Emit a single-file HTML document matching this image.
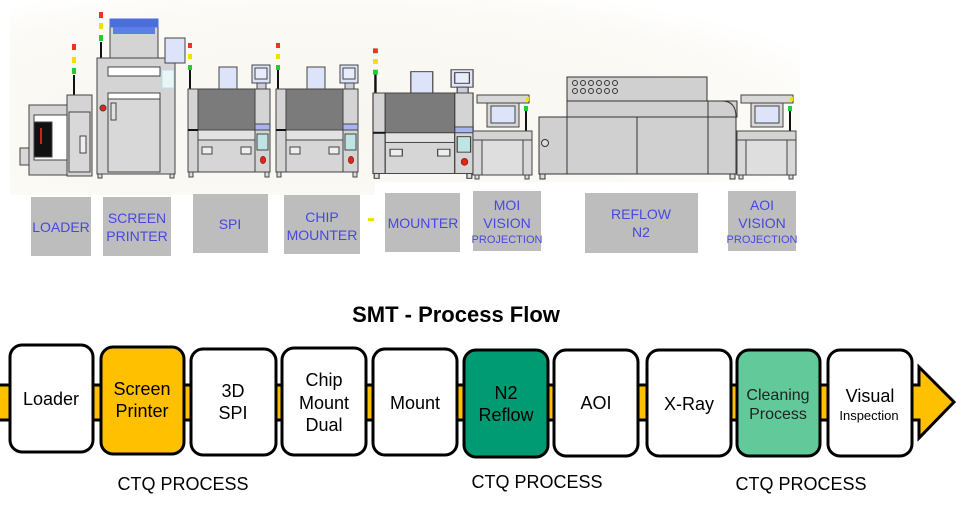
<!DOCTYPE html>
<html><head><meta charset="utf-8"><style>
html,body{margin:0;padding:0;background:#fff;}
svg{display:block;}
text{font-family:"Liberation Sans","Noto Sans CJK KR",sans-serif;}
</style></head><body>
<svg width="956" height="506" viewBox="0 0 956 506" xmlns="http://www.w3.org/2000/svg">
<defs>
<radialGradient id="bg" cx="0.4" cy="0.6" r="0.7">
<stop offset="0" stop-color="#f8f6ef"/><stop offset="0.8" stop-color="#fbfaf6"/><stop offset="1" stop-color="#ffffff"/>
</radialGradient>
<g id="mach" stroke="#444" stroke-width="1">
<line x1="2" y1="-20" x2="2" y2="0" stroke="#111" stroke-width="2"/>
<rect x="0" y="-24" width="4" height="5" fill="#22cc33" stroke="none"/>
<rect x="0" y="-35" width="4" height="5" fill="#f0e000" stroke="none"/>
<rect x="0" y="-46" width="4" height="5" fill="#ee3322" stroke="none"/>
<rect x="31" y="-22" width="18" height="22" fill="#dde3f8"/>
<rect x="64" y="-24" width="18" height="18" fill="#dde3f8"/>
<rect x="67" y="-21" width="12" height="11" fill="#e8ecfb"/>
<rect x="69" y="-6" width="9" height="6" fill="#ccd"/>
<rect x="0" y="0" width="10" height="83" fill="#d4d4d4"/>
<rect x="10" y="0" width="57" height="41" fill="#7b7b7b"/>
<rect x="10" y="41" width="57" height="10" fill="#e2e2e2"/>
<rect x="10" y="51" width="57" height="32" fill="#d6d6d6"/>
<rect x="14" y="58" width="10" height="7" fill="#eee"/>
<rect x="53" y="58" width="10" height="7" fill="#eee"/>
<rect x="67" y="0" width="15" height="83" fill="#d4d4d4"/>
<rect x="67" y="35" width="15" height="6" fill="#a8b4f0"/>
<rect x="69" y="45" width="11" height="16" fill="#bfe4e4"/>
<ellipse cx="75" cy="71" rx="2.5" ry="3.5" fill="#ee2211" stroke="#922"/>
<line x1="0" y1="41" x2="10" y2="41" stroke="#111" stroke-width="2"/>
<rect x="1" y="83" width="4" height="5" fill="#ddd"/>
<rect x="77" y="83" width="4" height="5" fill="#ddd"/>
</g>
<g id="insp" stroke="#444" stroke-width="1">
<rect x="4" y="0" width="52" height="8" fill="#d8d8d8"/>
<rect x="14" y="8" width="32" height="24" fill="#d8d8d8"/>
<rect x="18" y="11" width="24" height="17" fill="#dde3f8"/>
<line x1="53" y1="16" x2="53" y2="36" stroke="#111" stroke-width="2"/>
<rect x="51" y="11" width="4" height="5" fill="#22cc33" stroke="none"/>
<rect x="53" y="2" width="3" height="4" fill="#f0e000" stroke="none"/>
<rect x="0" y="36" width="59" height="9" fill="#d4d4d4"/>
<rect x="0" y="45" width="59" height="35" fill="#d8d8d8"/>
<rect x="9" y="45" width="41" height="35" fill="#dedede"/>
<rect x="2" y="80" width="4" height="4" fill="#ddd"/>
<rect x="52" y="80" width="4" height="4" fill="#ddd"/>
</g>
</defs>
<rect x="10" y="0" width="790" height="195" fill="url(#bg)"/>
<rect x="375" y="182" width="430" height="14" fill="#fff"/>

<!-- loader -->
<g stroke="#444" stroke-width="1">
<line x1="74" y1="75" x2="74" y2="95" stroke="#111" stroke-width="2"/>
<rect x="72" y="44" width="4" height="6" fill="#ee3322" stroke="none"/>
<rect x="72" y="57" width="4" height="6" fill="#f0e000" stroke="none"/>
<rect x="72" y="68" width="4" height="6" fill="#22cc33" stroke="none"/>
<rect x="20" y="148" width="13" height="17" fill="#d8d8d8"/>
<rect x="29" y="105" width="38" height="70" fill="#d4d4d4"/>
<rect x="34" y="115" width="33" height="45" fill="#fff"/>
<rect x="34" y="122" width="18" height="35" fill="#111"/>
<line x1="41" y1="144" x2="41" y2="128" stroke="#c22" stroke-width="2"/>
<rect x="67" y="95" width="25" height="81" fill="#d4d4d4"/>
<rect x="69" y="112" width="21" height="60" fill="#d8d8d8"/>
<rect x="80" y="136" width="6" height="17" fill="#eee"/>
</g>
<!-- screen printer -->
<g stroke="#444" stroke-width="1">
<line x1="101" y1="42" x2="101" y2="58" stroke="#111" stroke-width="2"/>
<rect x="99" y="12" width="4" height="6" fill="#ee3322" stroke="none"/>
<rect x="99" y="23" width="4" height="6" fill="#f0e000" stroke="none"/>
<rect x="99" y="35" width="4" height="6" fill="#22cc33" stroke="none"/>
<rect x="110" y="27" width="48" height="31" fill="#d4d4d4"/>
<rect x="110" y="19" width="48" height="8" fill="#4a6fdc" stroke="#4a6fdc"/>
<rect x="113" y="27" width="42" height="7" fill="#5b7fe6" stroke="none"/>
<rect x="97" y="58" width="78" height="116" fill="#d4d4d4"/>
<rect x="108" y="67" width="52" height="9" fill="#fff"/>
<rect x="108" y="93" width="52" height="6" fill="#fff"/>
<rect x="108" y="99" width="52" height="73" fill="#d8d8d8"/>
<circle cx="103" cy="108" r="3" fill="#ee2211"/>
<rect x="111" y="103" width="5" height="17" fill="#e0e0e0"/>
<rect x="162" y="70" width="12" height="18" fill="#e8f6f6" stroke="#bde"/>
<rect x="165" y="38" width="20" height="25" fill="#dde3f8"/>
<rect x="98" y="174" width="4" height="4" fill="#ddd"/>
<rect x="170" y="174" width="4" height="4" fill="#ddd"/>
</g>
<use href="#mach" x="188" y="89"/>
<use href="#mach" x="276" y="89"/>
<use href="#mach" transform="translate(373,93) scale(1.22,0.97)"/>
<use href="#insp" x="473" y="95"/>
<use href="#insp" x="737" y="95"/>
<!-- reflow -->
<g stroke="#333" stroke-width="1">
<rect x="567" y="77" width="140" height="24" fill="#d0d0d0"/>
<rect x="567" y="101" width="170" height="16" fill="#d0d0d0"/>
<path d="M707 101 H722 Q736 101 736 117" fill="#d0d0d0"/>
<rect x="539" y="117" width="197" height="57" fill="#d0d0d0"/>
<line x1="567" y1="101" x2="567" y2="174"/>
<line x1="637" y1="117" x2="637" y2="174"/>
<line x1="708" y1="101" x2="708" y2="174"/>
<circle cx="545" cy="143" r="3.5" fill="#ddd"/>
<g fill="none">
<circle cx="575" cy="83" r="2.5"/><circle cx="583" cy="83" r="2.5"/><circle cx="591" cy="83" r="2.5"/><circle cx="599" cy="83" r="2.5"/><circle cx="607" cy="83" r="2.5"/><circle cx="615" cy="83" r="2.5"/>
<circle cx="575" cy="91" r="2.5"/><circle cx="583" cy="91" r="2.5"/><circle cx="591" cy="91" r="2.5"/><circle cx="599" cy="91" r="2.5"/><circle cx="607" cy="91" r="2.5"/><circle cx="615" cy="91" r="2.5"/>
</g>
<rect x="540" y="174" width="5" height="5" fill="#ddd"/>
<rect x="730" y="174" width="5" height="5" fill="#ddd"/>
</g>

<!-- labels -->
<g fill="#bdbdbd">
<rect x="31" y="197" width="60" height="59"/>
<rect x="103" y="197" width="68" height="59"/>
<rect x="193" y="194" width="75" height="59"/>
<rect x="284" y="195" width="76" height="59"/>
<rect x="385" y="193" width="75" height="59"/>
<rect x="473" y="191" width="68" height="60"/>
<rect x="585" y="193" width="113" height="60"/>
<rect x="728" y="191" width="68" height="60"/>
</g>
<rect x="368" y="218" width="6" height="3" fill="#f0e000"/>
<g fill="#4848e0" font-size="14" text-anchor="middle">
<text x="61" y="232">LOADER</text>
<text x="137" y="223">SCREEN</text><text x="137" y="241">PRINTER</text>
<text x="230" y="229">SPI</text>
<text x="322" y="222">CHIP</text><text x="322" y="240">MOUNTER</text>
<text x="423" y="228">MOUNTER</text>
<text x="507" y="210">MOI</text><text x="507" y="228">VISION</text><text x="507" y="243" font-size="11">PROJECTION</text>
<text x="641" y="219">REFLOW</text><text x="641" y="237">N2</text>
<text x="762" y="210">AOI</text><text x="762" y="228">VISION</text><text x="762" y="243" font-size="11">PROJECTION</text>
</g>

<text x="456" y="322" font-size="22" font-weight="bold" text-anchor="middle" fill="#000">SMT - Process Flow</text>

<!-- arrow -->
<path d="M-3 385 H919 V367 L954 402 L919 438 V420 H-3 Z" fill="#ffc000" stroke="#000" stroke-width="3"/>
<g stroke="#000" stroke-width="3">
<rect x="10" y="345" width="83" height="107" rx="12" fill="#fff"/>
<rect x="101" y="347" width="83" height="107" rx="12" fill="#ffc000"/>
<rect x="191" y="349" width="85" height="106" rx="12" fill="#fff"/>
<rect x="282" y="348" width="84" height="107" rx="12" fill="#fff"/>
<rect x="373" y="349" width="84" height="106" rx="12" fill="#fff"/>
<rect x="464" y="350" width="84" height="107" rx="12" fill="#009b72"/>
<rect x="554" y="350" width="84" height="106" rx="12" fill="#fff"/>
<rect x="647" y="350" width="84" height="106" rx="12" fill="#fff"/>
<rect x="737" y="350" width="83" height="106" rx="12" fill="#62c99b"/>
<rect x="828" y="350" width="84" height="106" rx="12" fill="#fff"/>
</g>
<g font-size="18" text-anchor="middle" fill="#000">
<text x="51" y="405">Loader</text>
<text x="142" y="395">Screen</text><text x="142" y="417">Printer</text>
<text x="233" y="397">3D</text><text x="233" y="419">SPI</text>
<text x="324" y="386">Chip</text><text x="324" y="409">Mount</text><text x="324" y="431">Dual</text>
<text x="415" y="409">Mount</text>
<text x="506" y="399">N2</text><text x="506" y="421">Reflow</text>
<text x="596" y="409">AOI</text>
<text x="689" y="410">X-Ray</text>
<text x="778" y="400" font-size="16" fill="#222">Cleaning</text><text x="778" y="419" font-size="16" fill="#222">Process</text>
<text x="870" y="402">Visual</text><text x="869" y="420" font-size="13">Inspection</text>
</g>
<g font-size="18" text-anchor="middle" fill="#000">
<text x="183" y="490">CTQ PROCESS</text>
<text x="537" y="488">CTQ PROCESS</text>
<text x="801" y="490">CTQ PROCESS</text>
</g>
</svg>
</body></html>
